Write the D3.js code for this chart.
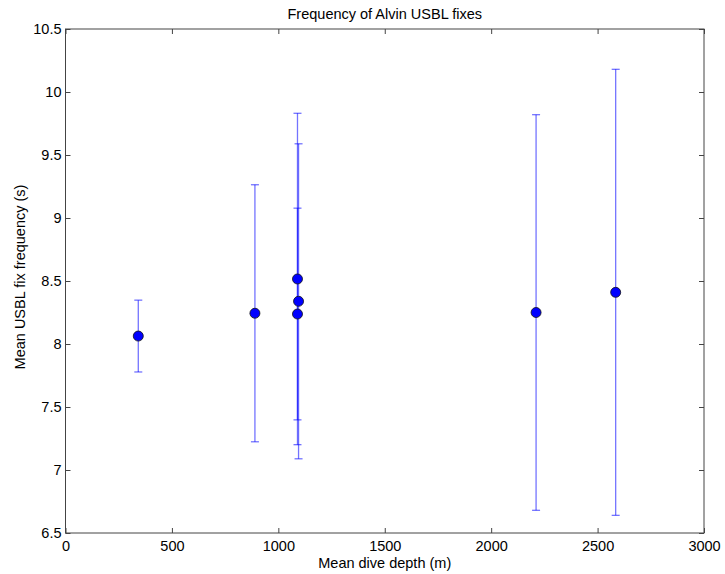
<!DOCTYPE html>
<html>
<head>
<meta charset="utf-8">
<script src="https://cdn.jsdelivr.net/npm/d3@7"></script>
<style>
  body { margin: 0; background: #fff; }
  text { font-family: "Liberation Sans", Arial, sans-serif; fill: #000; }
</style>
</head>
<body>
<div id="chart"></div>
<script>
// mean dive depth (m), mean fix frequency (s), half-width of error bar (s)
var depths = [342, 890, 1090, 1095, 1090, 2211, 2585];
var means  = [8.063, 8.244, 8.516, 8.339, 8.238, 8.25, 8.41];
var errors = [0.285, 1.02, 1.315, 1.25, 0.84, 1.57, 1.77];
var xTicks = [0, 500, 1000, 1500, 2000, 2500, 3000];
var yTicks = [6.5, 7, 7.5, 8, 8.5, 9, 9.5, 10, 10.5];

var width = 725, height = 574;
var margin = {top: 29, left: 65.5, right: 21, bottom: 41};
var fs = 14.5;

var svg = d3.select("#chart").append("svg")
    .attr("width", width)
    .attr("height", height);

var xScale = d3.scaleLinear().domain([0, 3000]).range([margin.left, width - margin.right]);
var yScale = d3.scaleLinear().domain([6.5, 10.5]).range([height - margin.bottom, margin.top]);

var points = depths.map(function(d, i) {
    return {x: d, y: means[i], e: errors[i]};
});

// box
svg.append("rect")
    .attr("x", xScale(0)).attr("y", yScale(10.5))
    .attr("width", xScale(3000) - xScale(0))
    .attr("height", yScale(6.5) - yScale(10.5))
    .attr("fill", "none").attr("stroke", "#444").attr("stroke-width", 1);

// inward ticks on all four sides, matlab style
var tk = 5;
var bottomAxis = svg.append("g")
    .attr("transform", `translate(0,${yScale(6.5)})`)
    .call(d3.axisBottom(xScale).tickValues(xTicks).tickSize(-tk).tickPadding(8).tickFormat(d3.format("d")));
var topAxis = svg.append("g")
    .attr("transform", `translate(0,${yScale(10.5)})`)
    .call(d3.axisTop(xScale).tickValues(xTicks).tickSize(-tk).tickFormat(""));
var leftAxis = svg.append("g")
    .attr("transform", `translate(${xScale(0)},0)`)
    .call(d3.axisLeft(yScale).tickValues(yTicks).tickSize(-tk).tickPadding(4).tickFormat(function(d) { return d; }));
var rightAxis = svg.append("g")
    .attr("transform", `translate(${xScale(3000)},0)`)
    .call(d3.axisRight(yScale).tickValues(yTicks).tickSize(-tk).tickFormat(""));

[bottomAxis, topAxis, leftAxis, rightAxis].forEach(function(a) {
    a.select(".domain").remove();
    a.selectAll(".tick line").attr("stroke", "#444");
    a.selectAll(".tick text").attr("font-size", fs).attr("font-family", "Liberation Sans, Arial, sans-serif");
});

// error bars
var eb = svg.append("g").attr("stroke", "#0000ff").attr("stroke-opacity", 0.55).attr("stroke-width", 1.3);
eb.selectAll(".v").data(points).enter().append("line")
    .attr("x1", function(d) { return xScale(d.x); })
    .attr("x2", function(d) { return xScale(d.x); })
    .attr("y1", function(d) { return yScale(d.y - d.e); })
    .attr("y2", function(d) { return yScale(d.y + d.e); });
var cap = 4;
eb.selectAll(".top").data(points).enter().append("line")
    .attr("x1", function(d) { return xScale(d.x) - cap; })
    .attr("x2", function(d) { return xScale(d.x) + cap; })
    .attr("y1", function(d) { return yScale(d.y + d.e); })
    .attr("y2", function(d) { return yScale(d.y + d.e); });
eb.selectAll(".bot").data(points).enter().append("line")
    .attr("x1", function(d) { return xScale(d.x) - cap; })
    .attr("x2", function(d) { return xScale(d.x) + cap; })
    .attr("y1", function(d) { return yScale(d.y - d.e); })
    .attr("y2", function(d) { return yScale(d.y - d.e); });

// markers
svg.selectAll("circle").data(points).enter().append("circle")
    .attr("cx", function(d) { return xScale(d.x); })
    .attr("cy", function(d) { return yScale(d.y); })
    .attr("r", 5)
    .attr("fill", "#0000ff")
    .attr("stroke", "#111")
    .attr("stroke-width", 0.8);

// labels
svg.append("text")
    .attr("x", (xScale(0) + xScale(3000)) / 2).attr("y", 19)
    .attr("text-anchor", "middle").attr("font-size", fs)
    .text("Frequency of Alvin USBL fixes");
svg.append("text")
    .attr("x", (xScale(0) + xScale(3000)) / 2).attr("y", 568)
    .attr("text-anchor", "middle").attr("font-size", fs)
    .text("Mean dive depth (m)");
svg.append("text")
    .attr("transform", "rotate(-90)")
    .attr("x", -277).attr("y", 25)
    .attr("text-anchor", "middle").attr("font-size", fs)
    .text("Mean USBL fix frequency (s)");
</script>
</body>
</html>
